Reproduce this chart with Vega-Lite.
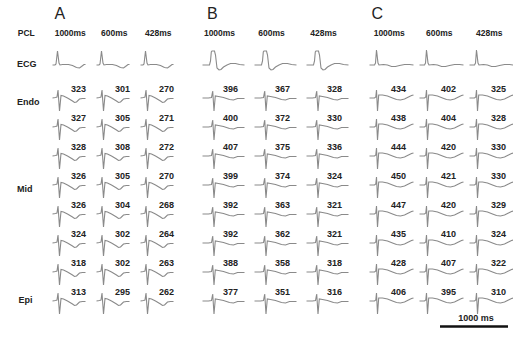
{
 "$schema": "https://vega.github.io/schema/vega-lite/v6.json",
 "padding": {"left": 4.5, "top": 5, "right": 0, "bottom": 0},
 "spacing": 13,
 "config": {"font": "Liberation Sans", "view": {"stroke": null}},
 "datasets": {
  "tpl": [
   {"tpl": "AE", "t": [4,6.5,7.5,9,10.5,11.5,14,20,24,28,31,33,35.5,37], "v": [4,4,5,18,6,4,4.5,4.5,3.5,1.5,1,2.5,4.5,4.5]},
   {"tpl": "AG", "t": [4,7,8.5,9.5,11,12.5,15,19,24,26,28,31,34,37], "v": [0,0.5,1,8,-13,2.5,2,0,-3,-4.5,-4,-1,-0.5,-0.5]},
   {"tpl": "BE", "t": [9,16,17,17.8,18.5,21,22,23.5,25.5,27.5,30,33.5,37,42,46,51], "v": [4,4,8,17,18,18,14,1,-1,-0.5,2,4,5.5,5.5,4.5,4]},
   {"tpl": "BG", "t": [9,15,18,19.2,20.5,21.8,25,30,36,40,44,47,51], "v": [0,0,0.5,7,-13,2,1.5,0.5,-1.5,-2,-0.5,-0.5,-0.5]},
   {"tpl": "CE", "t": [5,10,11,12,13.5,14.5,19,23,27,31,35,40,45,49], "v": [4,4,6,19,6,4,4.5,4,2.5,2.5,3.5,4.5,4.5,4]},
   {"tpl": "CG", "t": [5,10,11.3,12,13,14.2,18,23,28,32,36,40,44,47,49], "v": [0,0,1,8,-13,3,3,2,0,-1.5,-2,-1,1,2.5,3]}
  ],
  "cells": [
   {"panel":"A","pcl":"PCL","site":"ECG","label":"ECG"},
   {"panel":"A","pcl":"PCL","site":"1","label":"Endo"},
   {"panel":"A","pcl":"PCL","site":"2"},
   {"panel":"A","pcl":"PCL","site":"3"},
   {"panel":"A","pcl":"PCL","site":"4","label":"Mid"},
   {"panel":"A","pcl":"PCL","site":"5"},
   {"panel":"A","pcl":"PCL","site":"6"},
   {"panel":"A","pcl":"PCL","site":"7"},
   {"panel":"A","pcl":"PCL","site":"8","label":"Epi"},
   {"panel":"A","pcl":"PCL","site":"bar","label":"ΔAPD"},

   {"panel":"A","pcl":"1000ms","site":"ECG","tpl":"AE"},
   {"panel":"A","pcl":"1000ms","site":"1","tpl":"AG","apd":323},
   {"panel":"A","pcl":"1000ms","site":"2","tpl":"AG","apd":327},
   {"panel":"A","pcl":"1000ms","site":"3","tpl":"AG","apd":328},
   {"panel":"A","pcl":"1000ms","site":"4","tpl":"AG","apd":326},
   {"panel":"A","pcl":"1000ms","site":"5","tpl":"AG","apd":326},
   {"panel":"A","pcl":"1000ms","site":"6","tpl":"AG","apd":324},
   {"panel":"A","pcl":"1000ms","site":"7","tpl":"AG","apd":318},
   {"panel":"A","pcl":"1000ms","site":"8","tpl":"AG","apd":313},
   {"panel":"A","pcl":"1000ms","site":"bar","apd":15},
   {"panel":"A","pcl":"600ms","site":"ECG","tpl":"AE"},
   {"panel":"A","pcl":"600ms","site":"1","tpl":"AG","apd":301},
   {"panel":"A","pcl":"600ms","site":"2","tpl":"AG","apd":305},
   {"panel":"A","pcl":"600ms","site":"3","tpl":"AG","apd":308},
   {"panel":"A","pcl":"600ms","site":"4","tpl":"AG","apd":305},
   {"panel":"A","pcl":"600ms","site":"5","tpl":"AG","apd":304},
   {"panel":"A","pcl":"600ms","site":"6","tpl":"AG","apd":302},
   {"panel":"A","pcl":"600ms","site":"7","tpl":"AG","apd":302},
   {"panel":"A","pcl":"600ms","site":"8","tpl":"AG","apd":295},
   {"panel":"A","pcl":"600ms","site":"bar","apd":13},
   {"panel":"A","pcl":"428ms","site":"ECG","tpl":"AE"},
   {"panel":"A","pcl":"428ms","site":"1","tpl":"AG","apd":270},
   {"panel":"A","pcl":"428ms","site":"2","tpl":"AG","apd":271},
   {"panel":"A","pcl":"428ms","site":"3","tpl":"AG","apd":272},
   {"panel":"A","pcl":"428ms","site":"4","tpl":"AG","apd":270},
   {"panel":"A","pcl":"428ms","site":"5","tpl":"AG","apd":268},
   {"panel":"A","pcl":"428ms","site":"6","tpl":"AG","apd":264},
   {"panel":"A","pcl":"428ms","site":"7","tpl":"AG","apd":263},
   {"panel":"A","pcl":"428ms","site":"8","tpl":"AG","apd":262},
   {"panel":"A","pcl":"428ms","site":"bar","apd":10},

   {"panel":"B","pcl":"1000ms","site":"ECG","tpl":"BE"},
   {"panel":"B","pcl":"1000ms","site":"1","tpl":"BG","apd":396},
   {"panel":"B","pcl":"1000ms","site":"2","tpl":"BG","apd":400},
   {"panel":"B","pcl":"1000ms","site":"3","tpl":"BG","apd":407},
   {"panel":"B","pcl":"1000ms","site":"4","tpl":"BG","apd":399},
   {"panel":"B","pcl":"1000ms","site":"5","tpl":"BG","apd":392},
   {"panel":"B","pcl":"1000ms","site":"6","tpl":"BG","apd":392},
   {"panel":"B","pcl":"1000ms","site":"7","tpl":"BG","apd":388},
   {"panel":"B","pcl":"1000ms","site":"8","tpl":"BG","apd":377},
   {"panel":"B","pcl":"1000ms","site":"bar","apd":30},
   {"panel":"B","pcl":"600ms","site":"ECG","tpl":"BE"},
   {"panel":"B","pcl":"600ms","site":"1","tpl":"BG","apd":367},
   {"panel":"B","pcl":"600ms","site":"2","tpl":"BG","apd":372},
   {"panel":"B","pcl":"600ms","site":"3","tpl":"BG","apd":375},
   {"panel":"B","pcl":"600ms","site":"4","tpl":"BG","apd":374},
   {"panel":"B","pcl":"600ms","site":"5","tpl":"BG","apd":363},
   {"panel":"B","pcl":"600ms","site":"6","tpl":"BG","apd":362},
   {"panel":"B","pcl":"600ms","site":"7","tpl":"BG","apd":358},
   {"panel":"B","pcl":"600ms","site":"8","tpl":"BG","apd":351},
   {"panel":"B","pcl":"600ms","site":"bar","apd":24},
   {"panel":"B","pcl":"428ms","site":"ECG","tpl":"BE"},
   {"panel":"B","pcl":"428ms","site":"1","tpl":"BG","apd":328},
   {"panel":"B","pcl":"428ms","site":"2","tpl":"BG","apd":330},
   {"panel":"B","pcl":"428ms","site":"3","tpl":"BG","apd":336},
   {"panel":"B","pcl":"428ms","site":"4","tpl":"BG","apd":324},
   {"panel":"B","pcl":"428ms","site":"5","tpl":"BG","apd":321},
   {"panel":"B","pcl":"428ms","site":"6","tpl":"BG","apd":321},
   {"panel":"B","pcl":"428ms","site":"7","tpl":"BG","apd":318},
   {"panel":"B","pcl":"428ms","site":"8","tpl":"BG","apd":316},
   {"panel":"B","pcl":"428ms","site":"bar","apd":20},

   {"panel":"C","pcl":"1000ms","site":"ECG","tpl":"CE"},
   {"panel":"C","pcl":"1000ms","site":"1","tpl":"CG","apd":434},
   {"panel":"C","pcl":"1000ms","site":"2","tpl":"CG","apd":438},
   {"panel":"C","pcl":"1000ms","site":"3","tpl":"CG","apd":444},
   {"panel":"C","pcl":"1000ms","site":"4","tpl":"CG","apd":450},
   {"panel":"C","pcl":"1000ms","site":"5","tpl":"CG","apd":447},
   {"panel":"C","pcl":"1000ms","site":"6","tpl":"CG","apd":435},
   {"panel":"C","pcl":"1000ms","site":"7","tpl":"CG","apd":428},
   {"panel":"C","pcl":"1000ms","site":"8","tpl":"CG","apd":406},
   {"panel":"C","pcl":"1000ms","site":"bar","apd":44},
   {"panel":"C","pcl":"600ms","site":"ECG","tpl":"CE"},
   {"panel":"C","pcl":"600ms","site":"1","tpl":"CG","apd":402},
   {"panel":"C","pcl":"600ms","site":"2","tpl":"CG","apd":404},
   {"panel":"C","pcl":"600ms","site":"3","tpl":"CG","apd":420},
   {"panel":"C","pcl":"600ms","site":"4","tpl":"CG","apd":421},
   {"panel":"C","pcl":"600ms","site":"5","tpl":"CG","apd":420},
   {"panel":"C","pcl":"600ms","site":"6","tpl":"CG","apd":410},
   {"panel":"C","pcl":"600ms","site":"7","tpl":"CG","apd":407},
   {"panel":"C","pcl":"600ms","site":"8","tpl":"CG","apd":395},
   {"panel":"C","pcl":"600ms","site":"bar","apd":26,"scalebar":"1000 ms"},
   {"panel":"C","pcl":"428ms","site":"ECG","tpl":"CE"},
   {"panel":"C","pcl":"428ms","site":"1","tpl":"CG","apd":325},
   {"panel":"C","pcl":"428ms","site":"2","tpl":"CG","apd":328},
   {"panel":"C","pcl":"428ms","site":"3","tpl":"CG","apd":330},
   {"panel":"C","pcl":"428ms","site":"4","tpl":"CG","apd":330},
   {"panel":"C","pcl":"428ms","site":"5","tpl":"CG","apd":329},
   {"panel":"C","pcl":"428ms","site":"6","tpl":"CG","apd":324},
   {"panel":"C","pcl":"428ms","site":"7","tpl":"CG","apd":322},
   {"panel":"C","pcl":"428ms","site":"8","tpl":"CG","apd":310},
   {"panel":"C","pcl":"428ms","site":"bar","apd":20}
  ]
 },
 "hconcat": [
  {
   "data": {"name": "cells"},
   "transform": [{"filter": "datum.panel === 'A'"}, {"lookup": "tpl", "from": {"data": {"name": "tpl"}, "key": "tpl", "fields": ["t","v"]}}],
   "title": {"text": "A", "anchor": "start", "fontSize": 16, "fontWeight": "normal", "color": "#222", "dx": 50, "offset": 7},
   "bounds": "flush",
   "facet": {
    "row": {"field": "site", "type": "nominal", "sort": ["ECG","1","2","3","4","5","6","7","8","bar"], "header": {"labels": false, "title": null}},
    "column": {"field": "pcl", "type": "nominal", "sort": ["PCL","1000ms","600ms","428ms"], "header": {"title": null, "labelFontSize": 8.5, "labelFontWeight": "bold", "labelColor": "#222", "labelPadding": 9}}
   },
   "spacing": {"row": 0, "column": 0},
   "spec": {
    "width": 43.5, "height": 28.7,
    "layer": [
     {"transform": [{"filter": "isValid(datum.tpl)"}, {"flatten": ["t","v"]}],
      "mark": {"type": "line", "color": "#8a8a8a", "strokeWidth": 1.1},
      "encoding": {
       "x": {"field": "t", "type": "quantitative", "scale": {"domain": [0,43.5], "nice": false, "zero": false}, "axis": null},
       "y": {"field": "v", "type": "quantitative", "scale": {"domain": [-5.7,23], "nice": false, "zero": false}, "axis": null}}},
     {"transform": [{"filter": "isValid(datum.apd) && datum.site !== 'bar'"}],
      "mark": {"type": "text", "fontWeight": "bold", "fontSize": 9, "color": "#222", "align": "center", "baseline": "middle"},
      "encoding": {
       "x": {"datum": 30, "type": "quantitative", "scale": {"domain": [0,43.5], "nice": false, "zero": false}, "axis": null},
       "y": {"datum": 9, "type": "quantitative", "scale": {"domain": [-5.7,23], "nice": false, "zero": false}, "axis": null},
       "text": {"field": "apd", "type": "quantitative", "format": "d"}}},
     {"transform": [{"filter": "isValid(datum.apd) && datum.site === 'bar'"}],
      "mark": {"type": "text", "fontWeight": "bold", "fontSize": 9, "color": "#222", "align": "center", "baseline": "middle"},
      "encoding": {
       "x": {"datum": 30, "type": "quantitative", "scale": {"domain": [0,43.5], "nice": false, "zero": false}, "axis": null},
       "y": {"datum": -21.5, "type": "quantitative", "scale": {"domain": [-5.7,23], "nice": false, "zero": false}, "axis": null},
       "text": {"field": "apd", "type": "quantitative", "format": "d"}}},
     {"transform": [{"filter": "isValid(datum.label) && datum.site === 'ECG'"}],
      "mark": {"type": "text", "fontWeight": "bold", "fontSize": 9, "color": "#222", "align": "left", "baseline": "middle"},
      "encoding": {
       "x": {"datum": 12.5, "type": "quantitative", "scale": {"domain": [0,43.5], "nice": false, "zero": false}, "axis": null},
       "y": {"datum": 5, "type": "quantitative", "scale": {"domain": [-5.7,23], "nice": false, "zero": false}, "axis": null},
       "text": {"field": "label"}}},
     {"transform": [{"filter": "isValid(datum.label) && (datum.site === '1' || datum.site === '4')"}],
      "mark": {"type": "text", "fontWeight": "bold", "fontSize": 9, "color": "#222", "align": "left", "baseline": "middle"},
      "encoding": {
       "x": {"datum": 12.5, "type": "quantitative", "scale": {"domain": [0,43.5], "nice": false, "zero": false}, "axis": null},
       "y": {"datum": -4, "type": "quantitative", "scale": {"domain": [-5.7,23], "nice": false, "zero": false}, "axis": null},
       "text": {"field": "label"}}},
     {"transform": [{"filter": "isValid(datum.label) && datum.site === '8'"}],
      "mark": {"type": "text", "fontWeight": "bold", "fontSize": 9, "color": "#222", "align": "left", "baseline": "middle"},
      "encoding": {
       "x": {"datum": 14, "type": "quantitative", "scale": {"domain": [0,43.5], "nice": false, "zero": false}, "axis": null},
       "y": {"datum": 1, "type": "quantitative", "scale": {"domain": [-5.7,23], "nice": false, "zero": false}, "axis": null},
       "text": {"field": "label"}}},
     {"transform": [{"filter": "isValid(datum.label) && datum.site === 'bar'"}],
      "mark": {"type": "text", "fontWeight": "bold", "fontSize": 9, "color": "#222", "align": "left", "baseline": "middle"},
      "encoding": {
       "x": {"datum": 12.5, "type": "quantitative", "scale": {"domain": [0,43.5], "nice": false, "zero": false}, "axis": null},
       "y": {"datum": -21.5, "type": "quantitative", "scale": {"domain": [-5.7,23], "nice": false, "zero": false}, "axis": null},
       "text": {"field": "label"}}}
    ]
   }
  },
  {
   "data": {"name": "cells"},
   "transform": [{"filter": "datum.panel === 'B'"}, {"lookup": "tpl", "from": {"data": {"name": "tpl"}, "key": "tpl", "fields": ["t","v"]}}],
   "title": {"text": "B", "anchor": "start", "fontSize": 16, "fontWeight": "normal", "color": "#222", "dx": 13.5, "offset": 7},
   "bounds": "flush",
   "facet": {
    "row": {"field": "site", "type": "nominal", "sort": ["ECG","1","2","3","4","5","6","7","8","bar"], "header": {"labels": false, "title": null}},
    "column": {"field": "pcl", "type": "nominal", "sort": ["1000ms","600ms","428ms"], "header": {"title": null, "labelFontSize": 8.5, "labelFontWeight": "bold", "labelColor": "#222", "labelPadding": 9}}
   },
   "spacing": {"row": 0, "column": 0},
   "spec": {
    "width": 52, "height": 28.7,
    "layer": [
     {"transform": [{"filter": "isValid(datum.tpl)"}, {"flatten": ["t","v"]}],
      "mark": {"type": "line", "color": "#8a8a8a", "strokeWidth": 1.1},
      "encoding": {
       "x": {"field": "t", "type": "quantitative", "scale": {"domain": [0,52], "nice": false, "zero": false}, "axis": null},
       "y": {"field": "v", "type": "quantitative", "scale": {"domain": [-5.7,23], "nice": false, "zero": false}, "axis": null}}},
     {"transform": [{"filter": "isValid(datum.apd) && datum.site !== 'bar'"}],
      "mark": {"type": "text", "fontWeight": "bold", "fontSize": 9, "color": "#222", "align": "center", "baseline": "middle"},
      "encoding": {
       "x": {"datum": 37, "type": "quantitative", "scale": {"domain": [0,52], "nice": false, "zero": false}, "axis": null},
       "y": {"datum": 9, "type": "quantitative", "scale": {"domain": [-5.7,23], "nice": false, "zero": false}, "axis": null},
       "text": {"field": "apd", "type": "quantitative", "format": "d"}}},
     {"transform": [{"filter": "isValid(datum.apd) && datum.site === 'bar'"}],
      "mark": {"type": "text", "fontWeight": "bold", "fontSize": 9, "color": "#222", "align": "center", "baseline": "middle"},
      "encoding": {
       "x": {"datum": 37, "type": "quantitative", "scale": {"domain": [0,52], "nice": false, "zero": false}, "axis": null},
       "y": {"datum": -21.5, "type": "quantitative", "scale": {"domain": [-5.7,23], "nice": false, "zero": false}, "axis": null},
       "text": {"field": "apd", "type": "quantitative", "format": "d"}}}
    ]
   }
  },
  {
   "data": {"name": "cells"},
   "transform": [{"filter": "datum.panel === 'C'"}, {"lookup": "tpl", "from": {"data": {"name": "tpl"}, "key": "tpl", "fields": ["t","v"]}}],
   "title": {"text": "C", "anchor": "start", "fontSize": 16, "fontWeight": "normal", "color": "#222", "dx": 7, "offset": 7},
   "bounds": "flush",
   "facet": {
    "row": {"field": "site", "type": "nominal", "sort": ["ECG","1","2","3","4","5","6","7","8","bar"], "header": {"labels": false, "title": null}},
    "column": {"field": "pcl", "type": "nominal", "sort": ["1000ms","600ms","428ms"], "header": {"title": null, "labelFontSize": 8.5, "labelFontWeight": "bold", "labelColor": "#222", "labelPadding": 9}}
   },
   "spacing": {"row": 0, "column": 0},
   "spec": {
    "width": 49.5, "height": 28.7,
    "layer": [
     {"transform": [{"filter": "isValid(datum.tpl)"}, {"flatten": ["t","v"]}],
      "mark": {"type": "line", "color": "#8a8a8a", "strokeWidth": 1.1},
      "encoding": {
       "x": {"field": "t", "type": "quantitative", "scale": {"domain": [0,49.5], "nice": false, "zero": false}, "axis": null},
       "y": {"field": "v", "type": "quantitative", "scale": {"domain": [-5.7,23], "nice": false, "zero": false}, "axis": null}}},
     {"transform": [{"filter": "isValid(datum.apd) && datum.site !== 'bar'"}],
      "mark": {"type": "text", "fontWeight": "bold", "fontSize": 9, "color": "#222", "align": "center", "baseline": "middle"},
      "encoding": {
       "x": {"datum": 34, "type": "quantitative", "scale": {"domain": [0,49.5], "nice": false, "zero": false}, "axis": null},
       "y": {"datum": 9, "type": "quantitative", "scale": {"domain": [-5.7,23], "nice": false, "zero": false}, "axis": null},
       "text": {"field": "apd", "type": "quantitative", "format": "d"}}},
     {"transform": [{"filter": "isValid(datum.apd) && datum.site === 'bar'"}],
      "mark": {"type": "text", "fontWeight": "bold", "fontSize": 9, "color": "#222", "align": "center", "baseline": "middle"},
      "encoding": {
       "x": {"datum": 34, "type": "quantitative", "scale": {"domain": [0,49.5], "nice": false, "zero": false}, "axis": null},
       "y": {"datum": -21.5, "type": "quantitative", "scale": {"domain": [-5.7,23], "nice": false, "zero": false}, "axis": null},
       "text": {"field": "apd", "type": "quantitative", "format": "d"}}},
     {"transform": [{"filter": "isValid(datum.scalebar)"}],
      "mark": {"type": "rule", "color": "#111", "strokeWidth": 2.5},
      "encoding": {
       "x": {"datum": 25.5, "type": "quantitative", "scale": {"domain": [0,49.5], "nice": false, "zero": false}, "axis": null},
       "x2": {"datum": 93.5},
       "y": {"datum": 3.6, "type": "quantitative", "scale": {"domain": [-5.7,23], "nice": false, "zero": false}, "axis": null}}},
     {"transform": [{"filter": "isValid(datum.scalebar)"}],
      "mark": {"type": "text", "fontWeight": "bold", "fontSize": 9, "color": "#222", "align": "center", "baseline": "middle"},
      "encoding": {
       "x": {"datum": 61.5, "type": "quantitative", "scale": {"domain": [0,49.5], "nice": false, "zero": false}, "axis": null},
       "y": {"datum": 11.6, "type": "quantitative", "scale": {"domain": [-5.7,23], "nice": false, "zero": false}, "axis": null},
       "text": {"field": "scalebar"}}}
    ]
   }
  }
 ]
}
